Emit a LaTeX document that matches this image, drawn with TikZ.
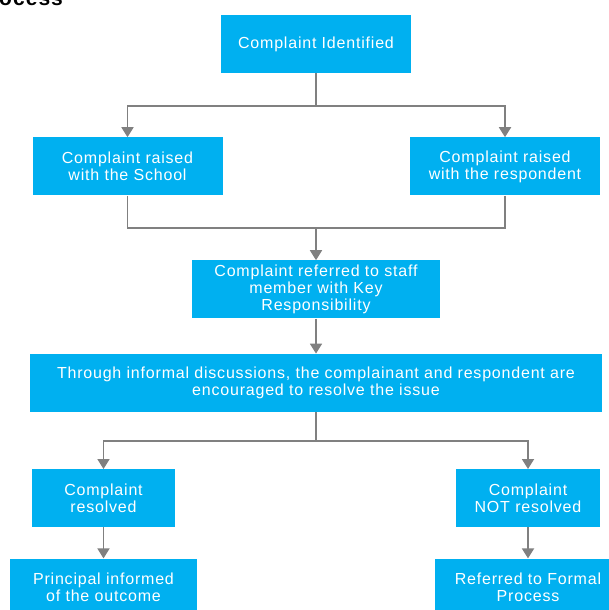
\documentclass[tikz,border=0pt]{standalone}
\usepackage{fontspec}
\setmainfont{Liberation Sans}[LetterSpace=5]
\usepackage{tikz}
\usetikzlibrary{arrows.meta}
\usetikzlibrary{positioning}
\definecolor{boxblue}{HTML}{00B0F0}
\definecolor{linegray}{HTML}{808080}
\tikzset{>={Triangle[width=12pt,length=10pt]}}
\tikzset{stepbox/.style={fill=boxblue, text=white, align=center, inner sep=2pt,
        minimum height=58pt, font=\fontsize{16}{17}\selectfont}}
\tikzset{link/.style={draw=linegray, line width=1.8pt}}

\begin{document}
\begin{tikzpicture}[x=1pt, y=1pt, node distance=64pt]
        \useasboundingbox (0,0) rectangle (608,-610);
        \node [anchor=base west, inner sep=0pt, font=\fontsize{21}{21}\bfseries] (Heading) at (-1,-6) {ocess};
        \node [stepbox, minimum width=190pt] (Identified) at (316,-44) {Complaint Identified};
        \node [stepbox, minimum width=190pt, below=of Identified, xshift=-188.5pt] (School) {Complaint raised\\with the School};
        \node [stepbox, minimum width=190pt, below=of Identified, xshift=189pt] (Respondent) {Complaint raised\\with the respondent};
        \node [stepbox, minimum width=248pt, below=187pt of Identified] (KeyStaff) {Complaint referred to staff\\member with Key\\Responsibility};
        \node [stepbox, minimum width=572pt, below=35pt of KeyStaff] (Informal) {Through informal discussions, the complainant and respondent are\\encouraged to resolve the issue};
        \node [stepbox, minimum width=143pt, below=57pt of Informal, xshift=-212.5pt] (Resolved) {Complaint\\resolved};
        \node [stepbox, minimum width=144pt, below=57pt of Informal, xshift=212pt] (NotResolved) {Complaint\\NOT resolved};
        \node [stepbox, minimum width=187pt, below=31pt of Resolved] (Principal) {Principal informed\\of the outcome};
        \node [stepbox, minimum width=186pt, below=31pt of NotResolved] (Formal) {Referred to Formal\\Process};
        \draw [link, ->] (Identified.south) -- ++(0,-33) -| (School.north);
        \draw [link, ->] (Identified.south) -- ++(0,-33) -| (Respondent.north);
        \draw [link, ->] (School.south) |- ++(188.5,-32) -- (KeyStaff.north);
        \draw [link] (Respondent.south) |- ++(-189,-32);
        \draw [link, ->] (KeyStaff.south) -- (KeyStaff.south |- Informal.north);
        \draw [link, ->] (KeyStaff.south |- Informal.south) -- ++(0,-29) -| (Resolved.north);
        \draw [link, ->] (KeyStaff.south |- Informal.south) -- ++(0,-29) -| (NotResolved.north);
        \draw [link, ->] (Resolved.south) -- (Principal.north);
        \draw [link, ->] (NotResolved.south) -- (Formal.north);
    \end{tikzpicture}
\end{document}
